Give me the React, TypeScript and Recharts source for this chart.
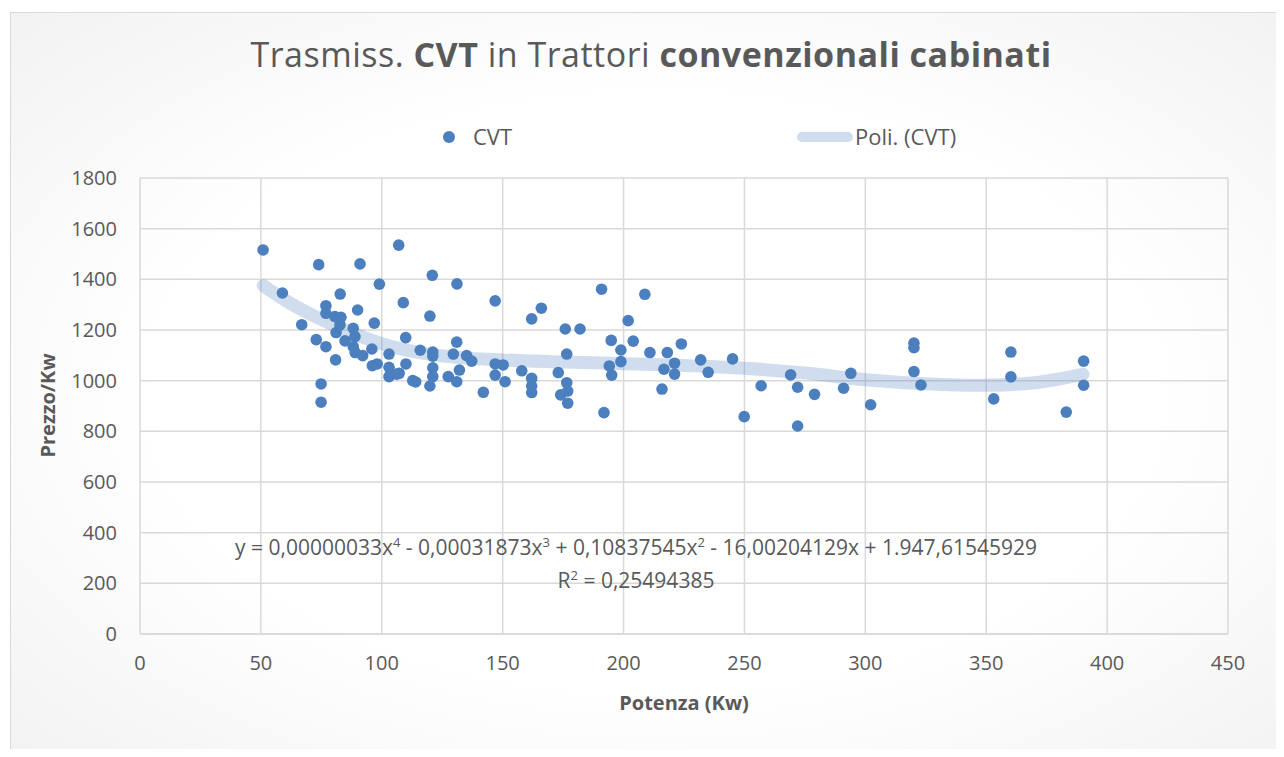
import { ComposedChart, Scatter, Line, XAxis, YAxis, CartesianGrid } from 'recharts';

// valori: potenza (Kw) e prezzo/Kw
const potenza = [
  50.9, 58.9, 66.9, 72.9, 73.9, 74.9, 74.9, 76.9, 76.9, 76.9, 80.6, 80.9, 81.1, 82.7, 82.8, 83.1, 84.8, 88.2,
  88.2, 88.9, 89.0, 90.0, 91.0, 92.1, 95.9, 96.1, 96.9, 98.1, 99.0, 103.0, 103.0, 103.0, 106.2, 107.2, 107.0,
  108.9, 109.9, 110.0, 112.8, 114.0, 115.9, 119.9, 119.9, 120.9, 121.1, 121.1, 121.1, 121.1, 127.5, 129.6,
  131.0, 131.0, 131.1, 132.1, 135.1, 137.2, 142.0, 146.9, 146.9, 146.9, 150.2, 151.0, 157.9, 162.0, 162.0,
  162.0, 162.0, 166.0, 173.0, 174.0, 175.9, 176.5, 176.5, 176.9, 176.9, 182.0, 190.9, 191.9, 194.1, 194.9,
  195.1, 198.9, 198.9, 201.9, 204.0, 208.8, 210.9, 215.9, 216.7, 218.1, 221.1, 221.1, 223.9, 231.9, 235.0,
  245.1, 249.9, 256.9, 269.1, 272.0, 272.0, 279.0, 291.0, 294.0, 302.2, 320.1, 320.1, 320.1, 323.0, 353.1,
  360.2, 360.2, 383.1, 390.3, 390.3,
];
const prezzo = [
  1516, 1346, 1221, 1162, 1458, 987, 915, 1296, 1266, 1134, 1253, 1082, 1190, 1220, 1342, 1250, 1157, 1207,
  1134, 1174, 1111, 1279, 1461, 1099, 1125, 1059, 1227, 1066, 1381, 1105, 1053, 1016, 1026, 1029, 1535,
  1308, 1170, 1066, 1000, 995, 1120, 1255, 979, 1416, 1113, 1097, 1051, 1016, 1016, 1105,
  1152, 996, 1382, 1042, 1099, 1077, 954, 1315, 1066, 1022, 1062, 996, 1039, 1244, 1009,
  979, 953, 1286, 1032, 944, 1204, 1105, 992, 959, 911, 1204, 1361, 874, 1058, 1159,
  1022, 1121, 1075, 1237, 1156, 1341, 1111, 967, 1045, 1111, 1069, 1026, 1145, 1082, 1033,
  1086, 858, 980, 1023, 974, 821, 946, 970, 1029, 905, 1148, 1130, 1036, 983, 928,
  1113, 1015, 876, 1077, 982,
];

// linea di tendenza polinomiale
const trendX = [51, 60, 70, 80, 90, 100, 115, 130, 150, 175, 200, 225, 250, 275, 300, 325, 350, 370, 390];
const trendY = [1375, 1318, 1265, 1220, 1180, 1146, 1112, 1093, 1082, 1074, 1067, 1060, 1049, 1030, 1004, 988, 982, 992, 1025];

const xTicks = [0, 50, 100, 150, 200, 250, 300, 350, 400, 450];
const yTicks = [0, 200, 400, 600, 800, 1000, 1200, 1400, 1600, 1800];

const points = potenza.map((x, i) => ({ x, y: prezzo[i] }));
const trend = trendX.map((x, i) => ({ x, t: trendY[i] }));

const font = '"Open Sans", sans-serif';
const grey = '#595959';
const blue = '#4c7fbe';

const Dot = (props: any) => <circle cx={props.cx} cy={props.cy} r={5.8} fill={blue} />;

export default function App() {
  return (
    <div
      style={{
        position: 'relative',
        margin: -8,
        width: 1284,
        height: 757,
        overflow: 'hidden',
        fontFamily: font,
        background: '#fff',
      }}
    >
      <div
        style={{
          position: 'absolute',
          left: 10,
          top: 12,
          width: 1290,
          height: 760,
          borderLeft: '1px solid #d9d9d9',
          borderTop: '1px solid #d9d9d9',
          background: 'radial-gradient(ellipse at center, #ffffff 55%, #f2f2f2 100%)',
        }}
      />
      <div
        style={{
          position: 'absolute',
          left: 51,
          top: 31,
          width: 1200,
          textAlign: 'center',
          fontSize: 34,
          color: grey,
          letterSpacing: 0.5,
        }}
      >
        Trasmiss. <b>CVT</b> in Trattori <b>convenzionali cabinati</b>
      </div>

      <div style={{ position: 'absolute', left: 443, top: 131, width: 12, height: 12, borderRadius: 6, background: blue }} />
      <div style={{ position: 'absolute', left: 473, top: 121, fontSize: 22, color: grey }}>CVT</div>
      <div
        style={{
          position: 'absolute',
          left: 797,
          top: 132,
          width: 56,
          height: 10,
          borderRadius: 5,
          background: 'rgba(74,124,191,0.26)',
        }}
      />
      <div style={{ position: 'absolute', left: 855, top: 121, fontSize: 22, color: grey }}>Poli. (CVT)</div>

      <div style={{ position: 'absolute', left: 0, top: 0 }}>
        <ComposedChart width={1284} height={757} margin={{ top: 178, right: 56, bottom: 63, left: 80 }}>
          <CartesianGrid stroke="#d9d9d9" strokeWidth={1.5} />
          <XAxis
            type="number"
            dataKey="x"
            domain={[0, 450]}
            ticks={xTicks}
            interval={0}
            stroke="#d9d9d9"
            strokeWidth={1.5}
            tick={{ fill: grey, fontSize: 20, fontFamily: font }}
            tickLine={false}
            tickSize={0}
            tickMargin={22}
            height={60}
          />
          <YAxis
            type="number"
            domain={[0, 1800]}
            ticks={yTicks}
            interval={0}
            width={60}
            axisLine={false}
            tick={{ fill: grey, fontSize: 20, fontFamily: font }}
            tickLine={false}
            tickSize={0}
            tickMargin={23}
          />
          <Line
            data={trend}
            dataKey="t"
            type="monotone"
            stroke="#4a7cbf"
            strokeOpacity={0.26}
            strokeWidth={13}
            strokeLinecap="round"
            dot={false}
            activeDot={false}
            isAnimationActive={false}
          />
          <Scatter data={points} dataKey="y" shape={Dot} isAnimationActive={false} />
        </ComposedChart>
      </div>

      <div
        style={{
          position: 'absolute',
          left: 136,
          top: 528,
          width: 1000,
          textAlign: 'center',
          fontSize: 21,
          color: grey,
          lineHeight: '28px',
          whiteSpace: 'nowrap',
        }}
      >
        y = 0,00000033x<sup style={{ fontSize: 13 }}>4</sup> - 0,00031873x<sup style={{ fontSize: 13 }}>3</sup> +
        0,10837545x<sup style={{ fontSize: 13 }}>2</sup> - 16,00204129x + 1.947,61545929
        <br />
        R<sup style={{ fontSize: 13 }}>2</sup> = 0,25494385
      </div>

      <div
        style={{
          position: 'absolute',
          left: 584,
          top: 689,
          width: 200,
          textAlign: 'center',
          fontSize: 20,
          fontWeight: 700,
          color: grey,
        }}
      >
        Potenza (Kw)
      </div>
      <div
        style={{
          position: 'absolute',
          left: 47 - 100,
          top: 406 - 14,
          width: 200,
          textAlign: 'center',
          fontSize: 20,
          fontWeight: 700,
          color: grey,
          transform: 'rotate(-90deg)',
        }}
      >
        Prezzo/Kw
      </div>
    </div>
  );
}
